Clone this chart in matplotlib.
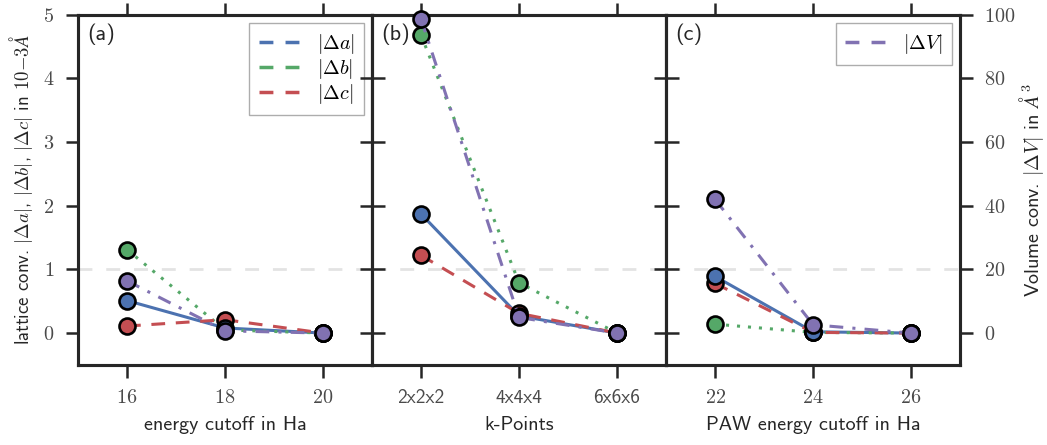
import matplotlib
matplotlib.use('Agg')
import matplotlib.pyplot as plt
from matplotlib.lines import Line2D

plt.rcParams['mathtext.fontset'] = 'cm'
plt.rcParams['font.family'] = ['cmss10', 'DejaVu Sans']
plt.rcParams['axes.unicode_minus'] = False

# panel (a): energy cutoff
ecut = [16, 18, 20]
ecut_a = [0.51, 0.08, 0.0]
ecut_b = [1.31, 0.05, 0.0]
ecut_c = [0.11, 0.21, 0.0]
ecut_V = [16.4, 0.7, 0.0]

# panel (b): k-points
kpts = ['2x2x2', '4x4x4', '6x6x6']
kpts_a = [1.87, 0.27, 0.0]
kpts_b = [4.68, 0.79, 0.0]
kpts_c = [1.22, 0.31, 0.0]
kpts_V = [98.6, 4.9, 0.0]

# panel (c): PAW energy cutoff
paw = [22, 24, 26]
paw_a = [0.89, 0.02, 0.0]
paw_b = [0.14, 0.01, 0.0]
paw_c = [0.78, 0.01, 0.0]
paw_V = [42.0, 2.6, 0.0]

yticks = [0, 1, 2, 3, 4, 5]
vticks = [0, 20, 40, 60, 80, 100]

blue, green, red, purple = '#4C72B0', '#55A868', '#C44E52', '#8172B2'
dark = '#262626'
ticklab = '#4a4a4a'

fig, axes = plt.subplots(1, 3, sharey=True, figsize=(10.47, 4.45), dpi=100)
plt.subplots_adjust(left=0.0745, right=0.917, top=0.967, bottom=0.18, wspace=0)

panels = [
    (ecut, ecut_a, ecut_b, ecut_c, ecut_V, '(a)', 'energy cutoff in Ha'),
    (kpts, kpts_a, kpts_b, kpts_c, kpts_V, '(b)', 'k-Points'),
    (paw, paw_a, paw_b, paw_c, paw_V, '(c)', 'PAW energy cutoff in Ha'),
]

mk = dict(marker='o', markersize=11.5, markeredgecolor='black', markeredgewidth=1.9,
          linestyle='none', clip_on=False, zorder=5)

for i, (ax, (x, da, db, dc, dV, lab, xl)) in enumerate(zip(axes, panels)):
    xs = list(range(len(x)))
    tw = ax.twinx()
    ax.axhline(1, color='#e3e3e3', lw=2, ls=(0, (5, 5)), zorder=0)
    ax.plot(xs, da, color=blue, lw=2.2, ls='-', zorder=2)
    ax.plot(xs, db, color=green, lw=2.2, ls=(0, (1, 2.6)), zorder=2)
    ax.plot(xs, dc, color=red, lw=2.2, ls=(0, (4.5, 3.5)), zorder=2)
    tw.plot(xs, dV, color=purple, lw=2.2, ls=(0, (4.5, 3, 1, 3)), zorder=2)
    ax.plot(xs, db, color=green, **mk)
    ax.plot(xs, dc, color=red, **mk)
    ax.plot(xs, da, color=blue, **mk)
    tw.plot(xs, dV, color=purple, **mk)

    ax.set_xlim(-0.5, len(x) - 0.5)
    ax.set_ylim(-0.5, 5)
    tw.set_ylim(-10, 100)
    ax.set_xticks(xs)
    if isinstance(x[0], str):
        ax.set_xticklabels(x, fontsize=14)
    else:
        ax.set_xticklabels(['$%d$' % v for v in x], fontsize=14.5)
    ax.set_yticks(yticks)
    ax.set_yticklabels(['$%d$' % v for v in yticks], fontsize=14.5)
    tw.set_yticks(vticks)
    tw.set_yticklabels(['$%d$' % v for v in vticks], fontsize=14.5)
    ax.set_xlabel(xl, fontsize=14.5, color=dark, labelpad=7)
    ax.text(0.03, 0.975, lab, transform=ax.transAxes, fontsize=16, va='top', ha='left',
            color=dark)

    ax.tick_params(axis='both', direction='out', length=9, width=1.8, color=dark,
                   labelcolor=ticklab, top=True, pad=8)
    tw.tick_params(axis='y', direction='out', length=9, width=1.8, color=dark,
                   labelcolor=ticklab, pad=8)
    if i < 2:
        tw.tick_params(labelright=False)
    if i > 0:
        ax.tick_params(labelleft=False)
    for a in (ax, tw):
        for s in a.spines.values():
            s.set_linewidth(2.2)
            s.set_color(dark)

axes[0].set_ylabel(r'lattice conv. $|\Delta a|$, $|\Delta b|$, $|\Delta c|$ in $10{-3}\AA$',
                   fontsize=13.5, color=dark, labelpad=6)
tw.set_ylabel(r'Volume conv. $|\Delta V|$ in $\AA^3$', fontsize=14.5, color=dark)
tw.yaxis.set_label_coords(1.192, 0.5)

legkw = dict(loc='upper right', fontsize=14.5, fancybox=False, handlelength=2.2,
             borderpad=0.45, labelspacing=0.05, handletextpad=0.7, borderaxespad=0,
             bbox_to_anchor=(0.973, 0.977))
h = [Line2D([], [], color=c, lw=2.5, ls=(0, (4, 3.5))) for c in (blue, green, red)]
leg = axes[0].legend(h, [r'$|\Delta a|$', r'$|\Delta b|$', r'$|\Delta c|$'], **legkw)
leg.get_frame().set_edgecolor('#999999')
leg = tw.legend([Line2D([], [], color=purple, lw=2.5, ls=(0, (4, 3.5)))], [r'$|\Delta V|$'],
                **legkw)
leg.get_frame().set_edgecolor('#999999')

fig.savefig('out.png', dpi=100)
